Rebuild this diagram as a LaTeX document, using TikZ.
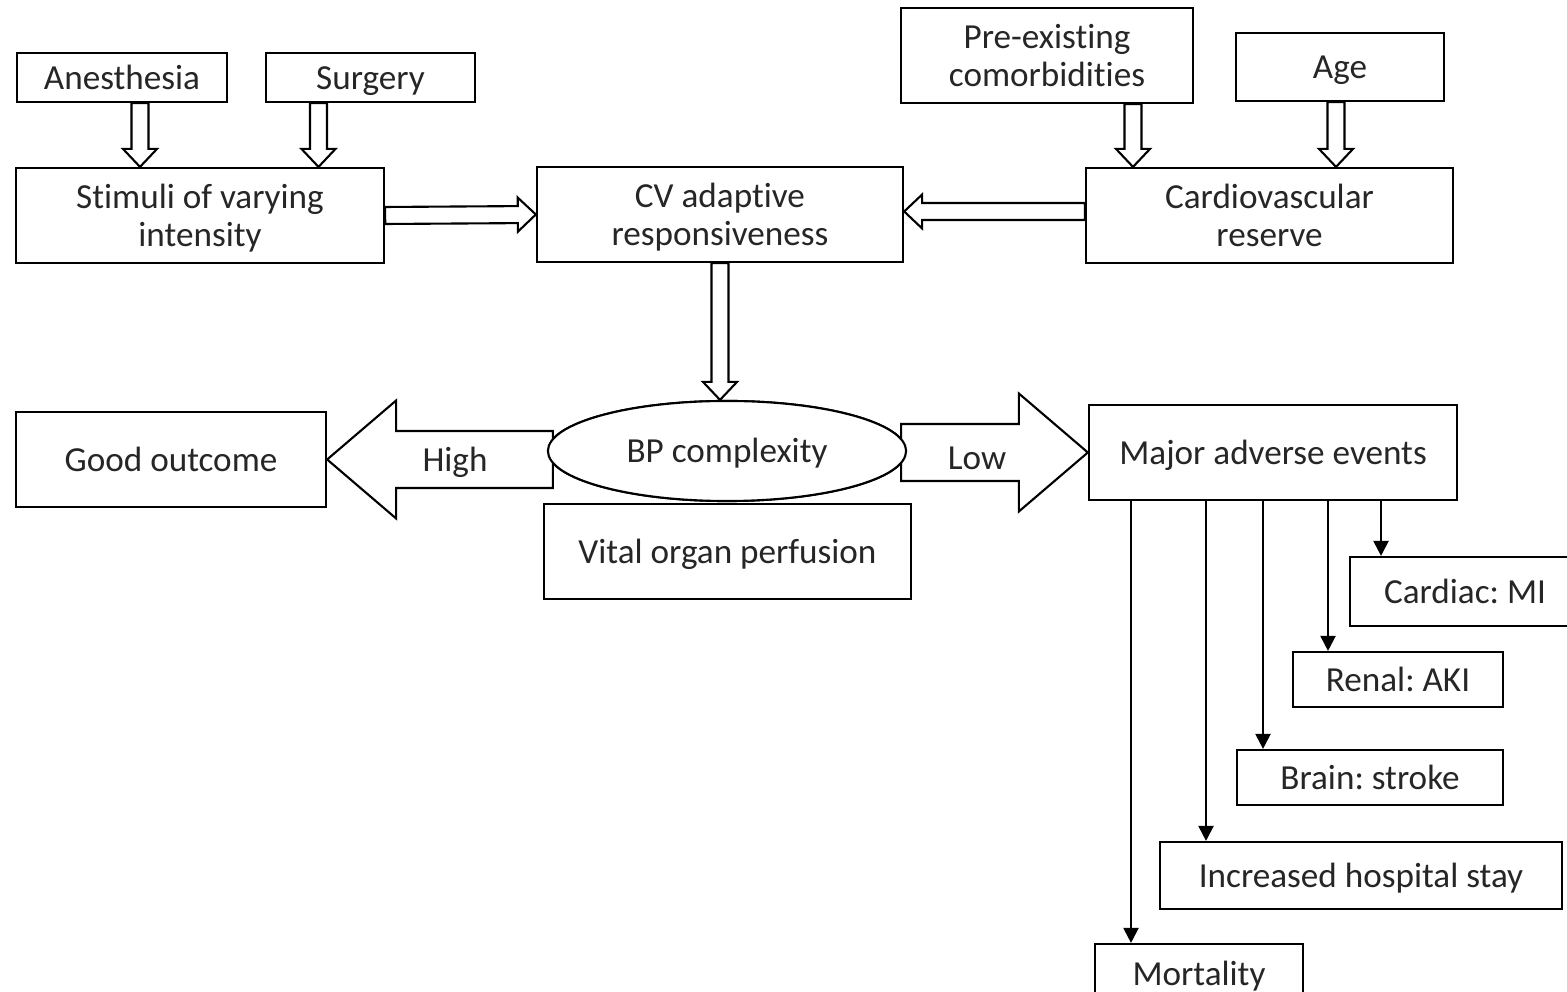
\documentclass[tikz,border=0pt]{standalone}
\usepackage{fontspec}
\setmainfont{Carlito}[Ligatures=NoCommon]
\usepackage{tikz}
\usetikzlibrary{calc,arrows.meta,shapes.geometric}
\frenchspacing

% hollow arrow: #1 start, #2 tip, #3 half shaft, #4 half head, #5 head length
\newcommand{\fatarrow}[5]{%
  \coordinate (fa-s) at (#1);
  \coordinate (fa-t) at (#2);
  \coordinate (fa-h) at ($(fa-t)!#5!(fa-s)$);
  \draw[hollow] ($(fa-s)!#3!90:(fa-t)$) -- ($(fa-h)!#3!-90:(fa-s)$) -- ($(fa-h)!#4!-90:(fa-s)$)
    -- (fa-t) -- ($(fa-h)!#4!90:(fa-s)$) -- ($(fa-h)!#3!90:(fa-s)$) -- ($(fa-s)!#3!-90:(fa-t)$) -- cycle;}
\newcommand{\thinhollow}[2]{\fatarrow{#1}{#2}{0.085cm}{0.17cm}{0.18cm}}
\newcommand{\bigarrow}[2]{\fatarrow{#1}{#2}{0.285cm}{0.59cm}{0.69cm}}

\begin{document}
\begin{tikzpicture}[x=0.01cm, y=-0.01cm, >={Triangle[length=1.5mm,width=1.5mm]},
    every node/.style={font=\fontsize{10}{10.8}\selectfont, text=black!85},
    box/.style={draw, fill=white, rectangle, line width=0.6pt, align=center, inner sep=2pt, text depth=-0.25ex},
    single/.style={text height=1.63ex, text depth=0.25ex},
    oval/.style={draw, fill=white, ellipse, line width=0.6pt, inner sep=0pt, single},
    hollow/.style={draw, fill=white, line width=0.6pt, line join=miter},
    link/.style={->, line width=0.6pt}]

    \useasboundingbox (0,0) rectangle (1567,992);

    % Nodes
    \node [box, single, minimum width=2.10cm, minimum height=0.49cm] (anes) at (122,77.5) {Anesthesia};
    \node [box, single, minimum width=2.09cm, minimum height=0.49cm] (surg) at (370.5,77.5) {Surgery};
    \node [box, minimum width=3.68cm, minimum height=0.95cm] (stim) at (200,215.5) {Stimuli of varying\\intensity};
    \node [box, minimum width=3.66cm, minimum height=0.95cm] (cv) at (720,214.5) {CV adaptive\\responsiveness};
    \node [box, minimum width=2.92cm, minimum height=0.95cm] (comorb) at (1047,55.5) {Pre-existing\\comorbidities};
    \node [box, single, minimum width=2.08cm, minimum height=0.68cm] (age) at (1340,67) {Age};
    \node [box, minimum width=3.67cm, minimum height=0.95cm] (reserve) at (1269.5,215.5) {Cardiovascular\\reserve};

    \node [box, single, minimum width=3.10cm, minimum height=0.95cm] (good) at (171,459.5) {Good outcome};
    \node [box, single, minimum width=3.67cm, minimum height=0.95cm] (vital) at (727.5,551.5) {Vital organ perfusion};
    \node [box, single, minimum width=3.68cm, minimum height=0.95cm] (major) at (1273,452.5) {Major adverse events};

    \node [box, single, minimum width=2.30cm, minimum height=0.69cm] (cardiac) at (1465,591.5) {Cardiac: MI};
    \node [box, single, minimum width=2.10cm, minimum height=0.55cm] (renal) at (1398,679.5) {Renal: AKI};
    \node [box, single, minimum width=2.66cm, minimum height=0.55cm] (brain) at (1370,777.5) {Brain: stroke};
    \node [box, single, minimum width=4.02cm, minimum height=0.67cm] (stay) at (1361,875.5) {Increased hospital stay};
    \node [box, single, minimum width=2.08cm, minimum height=0.6cm] (mort) at (1199,974) {Mortality};

    % Hollow arrows
    \coordinate (c1) at ($(anes.south)+(18,0)$);
    \coordinate (c2) at ($(surg.south)+(-52,0)$);
    \coordinate (c3) at ($(comorb.south)+(86,0)$);
    \coordinate (c4) at ($(age.south)+(-4,0)$);
    \coordinate (r1) at ($(reserve.west)+(0,-4)$);
    \thinhollow{c1}{c1 |- stim.north}
    \thinhollow{c2}{c2 |- stim.north}
    \thinhollow{c3}{c3 |- reserve.north}
    \thinhollow{c4}{c4 |- reserve.north}
    \thinhollow{stim.east}{cv.west}
    \thinhollow{r1}{cv.east |- r1}

    \node [oval, minimum width=3.58cm, minimum height=1.0cm] (bp) at (727,451) {BP complexity};
    \thinhollow{cv.south}{cv.south |- bp.north}

    % High / Low
    \coordinate (hi) at ($(bp.west |- good.east)+(6,0)$);
    \coordinate (lo) at ($(bp.east |- major.west)+(-6,0)$);
    \bigarrow{hi}{good.east}
    \bigarrow{lo}{major.west}
    \node [oval, minimum width=3.58cm, minimum height=1.0cm] at (bp) {BP complexity};
    \node [single] (high) at (455,460) {High};
    \node [single] (low) at (977,458) {Low};

    % Adverse events
    \coordinate (m1) at ($(major.south)+(-142,0)$);
    \coordinate (m2) at ($(major.south)+(-67,0)$);
    \coordinate (m3) at ($(major.south)+(-10,0)$);
    \coordinate (m4) at ($(major.south)+(55,0)$);
    \coordinate (m5) at ($(major.south)+(108,0)$);
    \draw [link] (m1) -- (m1 |- mort.north);
    \draw [link] (m2) -- (m2 |- stay.north);
    \draw [link] (m3) -- (m3 |- brain.north);
    \draw [link] (m4) -- (m4 |- renal.north);
    \draw [link] (m5) -- (m5 |- cardiac.north);

\end{tikzpicture}
\end{document}
